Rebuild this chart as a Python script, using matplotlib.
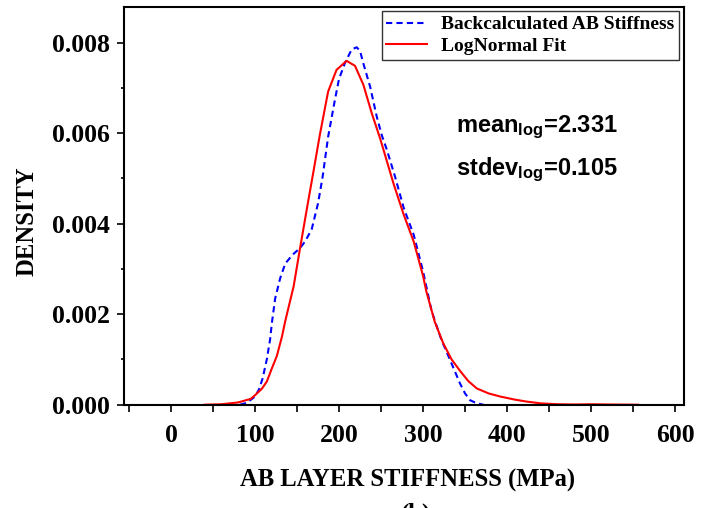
import matplotlib
matplotlib.use("Agg")
import matplotlib.pyplot as plt
from matplotlib.ticker import MultipleLocator, FixedLocator

plt.rcParams['mathtext.fontset'] = 'custom'
plt.rcParams['mathtext.rm'] = 'Liberation Sans:bold'
plt.rcParams['mathtext.bf'] = 'Liberation Sans:bold'
plt.rcParams['mathtext.it'] = 'Liberation Sans:bold'

# Backcalculated AB stiffness (kernel density)
kde_x = [82, 90, 100, 105, 109, 114, 118, 120, 124, 130, 136, 145, 153.6, 160, 167.5,
         175, 180.5, 187, 195, 200, 207, 215, 221, 225, 229, 237, 245, 251, 257, 266.7,
         277, 289, 300, 310, 316, 322, 334, 344, 350, 356, 364, 372]
kde_y = [0.0, 0.00004, 0.00018, 0.00035, 0.00058, 0.0010, 0.00145, 0.0018, 0.00235,
         0.0028, 0.00312, 0.00332, 0.00346, 0.00362, 0.00388, 0.00445, 0.00504, 0.00592,
         0.00673, 0.0072, 0.00755, 0.00785, 0.0079, 0.00782, 0.00754, 0.00703, 0.00636,
         0.00595, 0.00563, 0.00504, 0.00435, 0.00375, 0.00295, 0.00209, 0.00175, 0.00143,
         0.00091, 0.00047, 0.00025, 0.0001, 0.00003, 0.0]

# LogNormal fit
fit_x = [40, 60, 80, 95, 100, 108, 114, 120, 126, 132, 136, 146, 153.6, 163.5, 170, 177,
         187, 197, 209, 219, 229, 239, 249, 265, 277, 289, 300, 304, 314, 324, 334, 344,
         354, 364, 378, 392, 410, 423, 440, 460, 480, 500, 520, 556]
fit_y = [0.0, 0.00001, 0.00005, 0.00013, 0.00021, 0.00035, 0.00051, 0.0008, 0.00108,
         0.0015, 0.00185, 0.00262, 0.00346, 0.00452, 0.0052, 0.00595, 0.00692, 0.0074,
         0.0076, 0.00749, 0.00707, 0.00644, 0.00588, 0.00488, 0.0042, 0.0036, 0.00285,
         0.0025, 0.00183, 0.00136, 0.001, 0.00075, 0.00052, 0.00036, 0.00025, 0.00018,
         0.00011, 0.00007, 0.00003, 0.00001, 0.000005, 0.00001, 0.000005, 0.0]

x_ticks = [0, 100, 200, 300, 400, 500, 600]
y_ticks = [0.000, 0.002, 0.004, 0.006, 0.008]
y_tick_labels = ['0.000', '0.002', '0.004', '0.006', '0.008']

fig = plt.figure(figsize=(7.02, 5.08), dpi=100)
ax = fig.add_axes([124/702, 1 - 404.7/508, (684-124)/702, (404.7-7)/508])

ax.plot(kde_x, kde_y, color='blue', linestyle=(0, (3, 2)), linewidth=1.5,
        label='Backcalculated AB Stiffness')
ax.plot(fit_x, fit_y, color='red', linestyle='-', linewidth=1.5, label='LogNormal Fit')

ax.set_xlim(-56, 610.7)
ax.set_ylim(0, 0.00879)

serif = 'Liberation Serif'
ax.xaxis.set_major_locator(FixedLocator(x_ticks))
ax.xaxis.set_minor_locator(MultipleLocator(50))
ax.set_yticks(y_ticks)
ax.yaxis.set_minor_locator(MultipleLocator(0.001))
ax.set_xticklabels([str(v) for v in x_ticks], fontfamily=serif, fontweight='bold', fontsize=18.5)
ax.set_yticklabels(y_tick_labels, fontfamily=serif, fontweight='bold', fontsize=18.5)
ax.tick_params(axis='x', which='major', direction='out', length=5, width=1.2, pad=9)
ax.tick_params(axis='x', which='minor', direction='out', length=5, width=1.2)
ax.tick_params(axis='y', which='major', direction='out', length=5, width=1.2, pad=5)
ax.tick_params(axis='y', which='minor', direction='out', length=2.5, width=1.2)
for s in ax.spines.values():
    s.set_linewidth(1.5)

leg = ax.legend(loc='upper right',
                bbox_to_anchor=(679/702, 1 - 11/508), bbox_transform=fig.transFigure,
                prop={'family': serif, 'weight': 'bold', 'size': 14},
                fancybox=False, framealpha=1, edgecolor='#333333',
                handlelength=2.1, handletextpad=0.7, borderpad=0.25, labelspacing=0.2,
                borderaxespad=0.0)
leg.get_frame().set_linewidth(1.0)

fig.text(456/702, 1 - 132/508, r'$\mathrm{mean_{log}}$=2.331', fontfamily='Liberation Sans',
         fontweight='bold', fontsize=17, va='baseline', ha='left')
fig.text(456/702, 1 - 175/508, r'$\mathrm{stdev_{log}}$=0.105', fontfamily='Liberation Sans',
         fontweight='bold', fontsize=17, va='baseline', ha='left')

fig.text(27.5/702, 1 - 221.5/508, 'DENSITY', rotation=90, fontfamily=serif, fontweight='bold',
         fontsize=17.7, ha='center', va='center')
fig.text(407.5/702, 1 - 480/508, 'AB LAYER STIFFNESS (MPa)', fontfamily=serif,
         fontweight='bold', fontsize=17.7, ha='center', va='center')
fig.text(416/702, 1 - 503/508, '(b)', fontfamily=serif, fontweight='bold', fontsize=17.7,
         ha='center', va='top')

fig.savefig('out.png', dpi=100)
